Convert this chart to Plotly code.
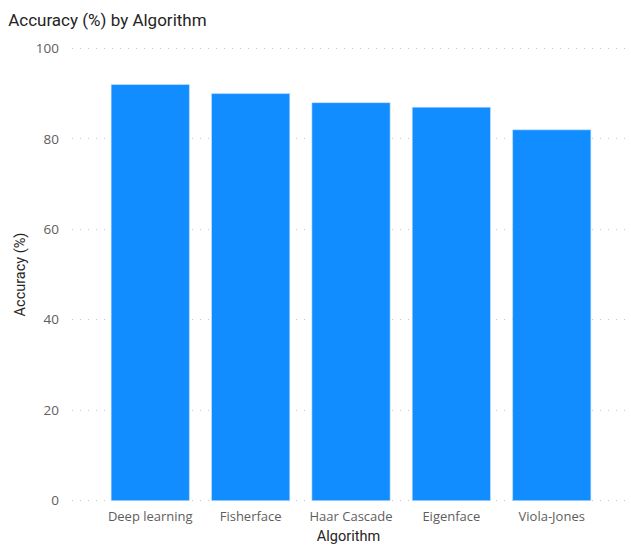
import plotly.graph_objects as go

algorithms = ["Deep learning", "Fisherface", "Haar Cascade", "Eigenface", "Viola-Jones"]
accuracy = [92, 90, 88, 87, 82]
y_ticks = [0, 20, 40, 60, 80, 100]

fig = go.Figure(go.Bar(
    x=algorithms, y=accuracy,
    marker=dict(color="#118DFF", line=dict(color="#cfe6ff", width=0.6)),
    width=0.78,
))

fig.update_layout(
    width=631, height=550,
    margin=dict(l=72, r=6, t=47, b=48),
    paper_bgcolor="white", plot_bgcolor="white",
    showlegend=False,
    title=dict(text="Accuracy (%) by Algorithm", x=0.013, xanchor="left", y=0.963, yanchor="middle",
               font=dict(family="Roboto", size=17, color="#252423")),
    font=dict(family="Open Sans", size=13, color="#605E5C"),
)
fig.update_xaxes(
    range=[-0.78, 4.73], showgrid=False, showline=False, zeroline=False,
    tickfont=dict(family="Open Sans", size=13, color="#605E5C"), ticklabelstandoff=5,
    title=dict(text="Algorithm", font=dict(family="Roboto", size=14.5, color="#252423"), standoff=6),
)
fig.update_yaxes(
    range=[-0.3, 100.3], tickvals=y_ticks, showgrid=True, gridcolor="#C8C6C4", griddash="1px,7px", gridwidth=1,
    zeroline=False, showline=False, ticklabelstandoff=12,
    tickfont=dict(family="Open Sans", size=13.5, color="#605E5C"),
    title=dict(text="Accuracy (%)", font=dict(family="Roboto", size=14.5, color="#252423"), standoff=6),
)
fig.write_html("out.html")
